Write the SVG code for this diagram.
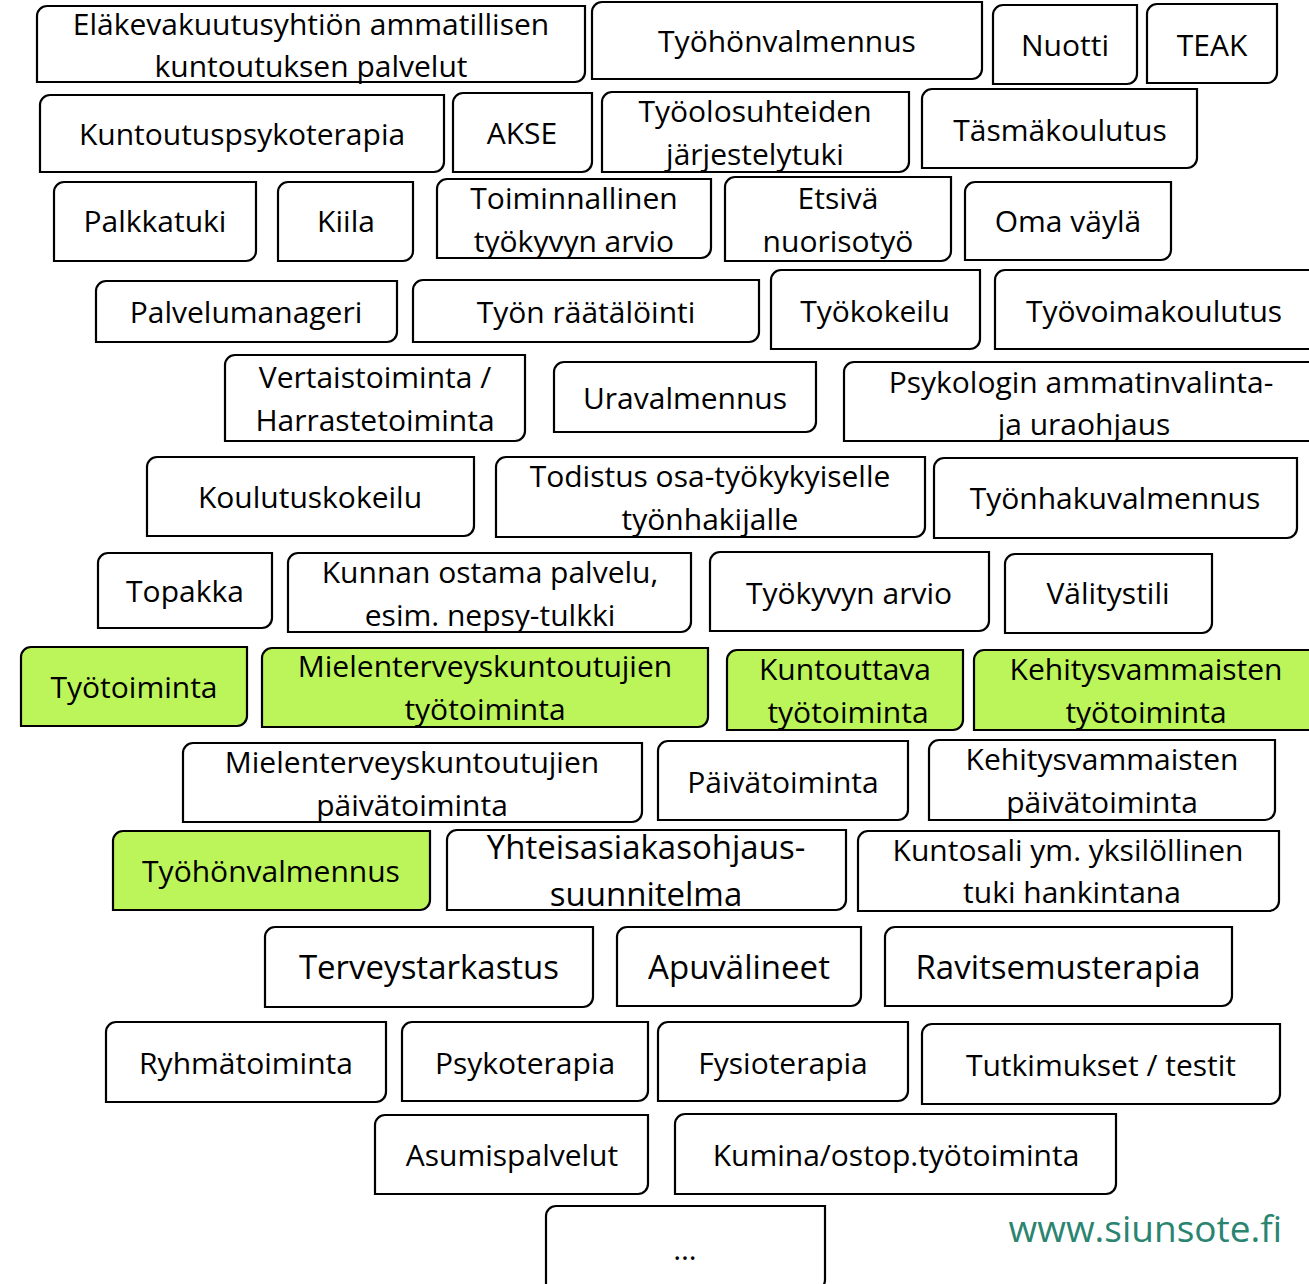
<svg xmlns="http://www.w3.org/2000/svg" width="1309" height="1284" viewBox="0 0 1309 1284">
<style>
.b{fill:#fff;stroke:#000;stroke-width:2.2}
.g{fill:#bcf55a;stroke:#000;stroke-width:2.2}
text{font-family:"Open Sans","Noto Sans",sans-serif;font-size:30px;fill:#000;text-anchor:middle}
.L{font-size:33px}
.url{font-size:37px;fill:#2a8470;text-anchor:end}
</style>
<rect width="1309" height="1284" fill="#fff"/>
<g id="connectors"/>
<g id="n1"><path class="b" d="M47,6H585V72A10,10 0 0 1 575,82H37V16A10,10 0 0 1 47,6Z"/><text x="311" y="35">Eläkevakuutusyhtiön ammatillisen</text><text x="311" y="77">kuntoutuksen palvelut</text></g>
<g id="n2"><path class="b" d="M602,2H982V69A10,10 0 0 1 972,79H592V12A10,10 0 0 1 602,2Z"/><text x="787" y="52">Työhönvalmennus</text></g>
<g id="n3"><path class="b" d="M1003,5H1137V74A10,10 0 0 1 1127,84H993V15A10,10 0 0 1 1003,5Z"/><text x="1065" y="56">Nuotti</text></g>
<g id="n4"><path class="b" d="M1157,4H1277V73A10,10 0 0 1 1267,83H1147V14A10,10 0 0 1 1157,4Z"/><text x="1212" y="56">TEAK</text></g>
<g id="n5"><path class="b" d="M50,95H444V162A10,10 0 0 1 434,172H40V105A10,10 0 0 1 50,95Z"/><text x="242" y="145">Kuntoutuspsykoterapia</text></g>
<g id="n6"><path class="b" d="M463,93H592V162A10,10 0 0 1 582,172H453V103A10,10 0 0 1 463,93Z"/><text x="522" y="144">AKSE</text></g>
<g id="n7"><path class="b" d="M612,92H909V162A10,10 0 0 1 899,172H602V102A10,10 0 0 1 612,92Z"/><text x="755" y="122">Työolosuhteiden</text><text x="755" y="165">järjestelytuki</text></g>
<g id="n8"><path class="b" d="M932,89H1197V158A10,10 0 0 1 1187,168H922V99A10,10 0 0 1 932,89Z"/><text x="1060" y="141">Täsmäkoulutus</text></g>
<g id="n9"><path class="b" d="M64,182H256V251A10,10 0 0 1 246,261H54V192A10,10 0 0 1 64,182Z"/><text x="155" y="232">Palkkatuki</text></g>
<g id="n10"><path class="b" d="M288,182H413V251A10,10 0 0 1 403,261H278V192A10,10 0 0 1 288,182Z"/><text x="346" y="232">Kiila</text></g>
<g id="n11"><path class="b" d="M447,179H711V248A10,10 0 0 1 701,258H437V189A10,10 0 0 1 447,179Z"/><text x="574" y="209">Toiminnallinen</text><text x="574" y="252">työkyvyn arvio</text></g>
<g id="n12"><path class="b" d="M735,177H951V251A10,10 0 0 1 941,261H725V187A10,10 0 0 1 735,177Z"/><text x="838" y="209">Etsivä</text><text x="838" y="252">nuorisotyö</text></g>
<g id="n13"><path class="b" d="M975,182H1171V250A10,10 0 0 1 1161,260H965V192A10,10 0 0 1 975,182Z"/><text x="1068" y="232">Oma väylä</text></g>
<g id="n14"><path class="b" d="M106,281H397V332A10,10 0 0 1 387,342H96V291A10,10 0 0 1 106,281Z"/><text x="246" y="323">Palvelumanageri</text></g>
<g id="n15"><path class="b" d="M423,280H759V332A10,10 0 0 1 749,342H413V290A10,10 0 0 1 423,280Z"/><text x="586" y="323">Työn räätälöinti</text></g>
<g id="n16"><path class="b" d="M781,270H980V339A10,10 0 0 1 970,349H771V280A10,10 0 0 1 781,270Z"/><text x="875" y="322">Työkokeilu</text></g>
<g id="n17"><path class="b" d="M1005,270H1320V339A10,10 0 0 1 1310,349H995V280A10,10 0 0 1 1005,270Z"/><text x="1154" y="322">Työvoimakoulutus</text></g>
<g id="n18"><path class="b" d="M235,355H525V431A10,10 0 0 1 515,441H225V365A10,10 0 0 1 235,355Z"/><text x="375" y="388">Vertaistoiminta /</text><text x="375" y="431">Harrastetoiminta</text></g>
<g id="n19"><path class="b" d="M564,362H816V422A10,10 0 0 1 806,432H554V372A10,10 0 0 1 564,362Z"/><text x="685" y="409">Uravalmennus</text></g>
<g id="n20"><path class="b" d="M854,362H1320V431A10,10 0 0 1 1310,441H844V372A10,10 0 0 1 854,362Z"/><text x="1081" y="393">Psykologin ammatinvalinta-</text><text x="1084" y="435">ja uraohjaus</text></g>
<g id="n21"><path class="b" d="M157,457H474V526A10,10 0 0 1 464,536H147V467A10,10 0 0 1 157,457Z"/><text x="310" y="508">Koulutuskokeilu</text></g>
<g id="n22"><path class="b" d="M506,457H925V527A10,10 0 0 1 915,537H496V467A10,10 0 0 1 506,457Z"/><text x="710" y="487">Todistus osa-työkykyiselle</text><text x="710" y="530">työnhakijalle</text></g>
<g id="n23"><path class="b" d="M944,458H1297V528A10,10 0 0 1 1287,538H934V468A10,10 0 0 1 944,458Z"/><text x="1115" y="509">Työnhakuvalmennus</text></g>
<g id="n24"><path class="b" d="M108,553H272V618A10,10 0 0 1 262,628H98V563A10,10 0 0 1 108,553Z"/><text x="185" y="602">Topakka</text></g>
<g id="n25"><path class="b" d="M298,553H691V622A10,10 0 0 1 681,632H288V563A10,10 0 0 1 298,553Z"/><text x="490" y="583">Kunnan ostama palvelu,</text><text x="490" y="626">esim. nepsy-tulkki</text></g>
<g id="n26"><path class="b" d="M720,552H989V621A10,10 0 0 1 979,631H710V562A10,10 0 0 1 720,552Z"/><text x="849" y="604">Työkyvyn arvio</text></g>
<g id="n27"><path class="b" d="M1015,554H1212V623A10,10 0 0 1 1202,633H1005V564A10,10 0 0 1 1015,554Z"/><text x="1108" y="604">Välitystili</text></g>
<g id="n28"><path class="g" d="M31,647H247V716A10,10 0 0 1 237,726H21V657A10,10 0 0 1 31,647Z"/><text x="134" y="698">Työtoiminta</text></g>
<g id="n29"><path class="g" d="M272,648H708V717A10,10 0 0 1 698,727H262V658A10,10 0 0 1 272,648Z"/><text x="485" y="677">Mielenterveyskuntoutujien</text><text x="485" y="720">työtoiminta</text></g>
<g id="n30"><path class="g" d="M737,650H963V720A10,10 0 0 1 953,730H727V660A10,10 0 0 1 737,650Z"/><text x="845" y="680">Kuntouttava</text><text x="848" y="723">työtoiminta</text></g>
<g id="n31"><path class="g" d="M984,650H1320V720A10,10 0 0 1 1310,730H974V660A10,10 0 0 1 984,650Z"/><text x="1146" y="680">Kehitysvammaisten</text><text x="1146" y="723">työtoiminta</text></g>
<g id="n32"><path class="b" d="M193,743H642V812A10,10 0 0 1 632,822H183V753A10,10 0 0 1 193,743Z"/><text x="412" y="773">Mielenterveyskuntoutujien</text><text x="412" y="816">päivätoiminta</text></g>
<g id="n33"><path class="b" d="M668,741H908V810A10,10 0 0 1 898,820H658V751A10,10 0 0 1 668,741Z"/><text x="783" y="793">Päivätoiminta</text></g>
<g id="n34"><path class="b" d="M939,740H1275V810A10,10 0 0 1 1265,820H929V750A10,10 0 0 1 939,740Z"/><text x="1102" y="770">Kehitysvammaisten</text><text x="1102" y="813">päivätoiminta</text></g>
<g id="n35"><path class="g" d="M123,831H430V900A10,10 0 0 1 420,910H113V841A10,10 0 0 1 123,831Z"/><text x="271" y="882">Työhönvalmennus</text></g>
<g id="n36"><path class="b" d="M457,830H846V900A10,10 0 0 1 836,910H447V840A10,10 0 0 1 457,830Z"/><text class="L" x="646" y="859">Yhteisasiakasohjaus-</text><text class="L" x="646" y="906">suunnitelma</text></g>
<g id="n37"><path class="b" d="M868,831H1279V901A10,10 0 0 1 1269,911H858V841A10,10 0 0 1 868,831Z"/><text x="1068" y="861">Kuntosali ym. yksilöllinen</text><text x="1072" y="903">tuki hankintana</text></g>
<g id="n38"><path class="b" d="M275,927H593V997A10,10 0 0 1 583,1007H265V937A10,10 0 0 1 275,927Z"/><text class="L" x="429" y="979">Terveystarkastus</text></g>
<g id="n39"><path class="b" d="M627,927H861V996A10,10 0 0 1 851,1006H617V937A10,10 0 0 1 627,927Z"/><text class="L" x="739" y="979">Apuvälineet</text></g>
<g id="n40"><path class="b" d="M895,927H1232V996A10,10 0 0 1 1222,1006H885V937A10,10 0 0 1 895,927Z"/><text class="L" x="1058" y="979">Ravitsemusterapia</text></g>
<g id="n41"><path class="b" d="M116,1022H386V1092A10,10 0 0 1 376,1102H106V1032A10,10 0 0 1 116,1022Z"/><text x="246" y="1074">Ryhmätoiminta</text></g>
<g id="n42"><path class="b" d="M412,1022H648V1091A10,10 0 0 1 638,1101H402V1032A10,10 0 0 1 412,1022Z"/><text x="525" y="1074">Psykoterapia</text></g>
<g id="n43"><path class="b" d="M668,1022H908V1091A10,10 0 0 1 898,1101H658V1032A10,10 0 0 1 668,1022Z"/><text x="783" y="1074">Fysioterapia</text></g>
<g id="n44"><path class="b" d="M932,1024H1280V1094A10,10 0 0 1 1270,1104H922V1034A10,10 0 0 1 932,1024Z"/><text x="1101" y="1076">Tutkimukset / testit</text></g>
<g id="n45"><path class="b" d="M385,1115H648V1184A10,10 0 0 1 638,1194H375V1125A10,10 0 0 1 385,1115Z"/><text x="512" y="1166">Asumispalvelut</text></g>
<g id="n46"><path class="b" d="M685,1114H1116V1184A10,10 0 0 1 1106,1194H675V1124A10,10 0 0 1 685,1114Z"/><text x="896" y="1166">Kumina/ostop.työtoiminta</text></g>
<g id="n47"><path class="b" d="M556,1206H825V1280A10,10 0 0 1 815,1290H546V1216A10,10 0 0 1 556,1206Z"/><text x="685" y="1260">…</text></g>
<text class="url" x="1282" y="1242">www.siunsote.fi</text>
</svg>
